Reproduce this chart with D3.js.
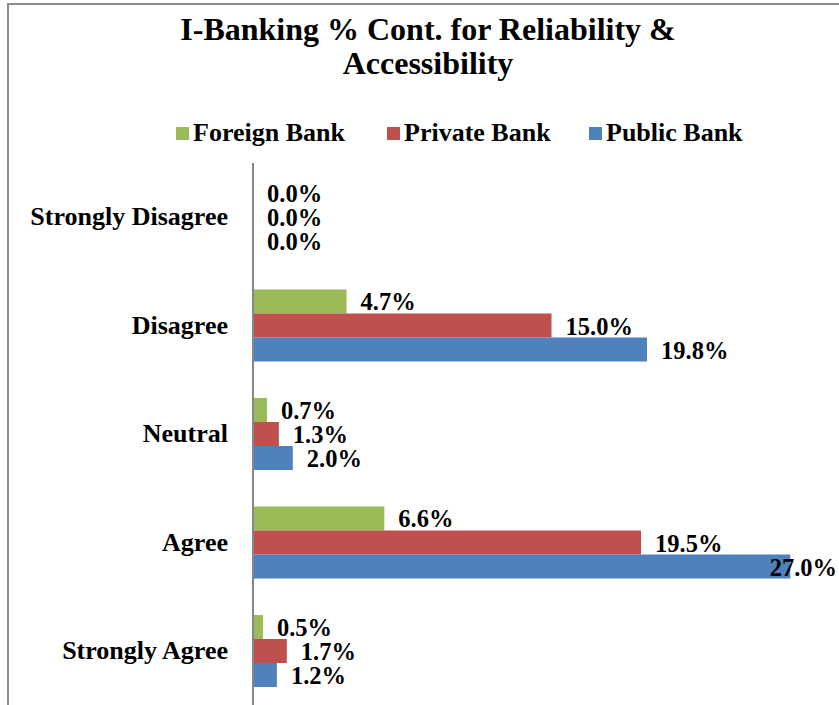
<!DOCTYPE html>
<html>
<head>
<meta charset="utf-8">
<script src="https://cdn.jsdelivr.net/npm/d3@7/dist/d3.min.js"></script>
<style>
  html, body { margin: 0; padding: 0; background: #fff; }
  svg { display: block; }
  svg text { font-family: "Liberation Serif", "Times New Roman", "DejaVu Serif", serif; font-weight: bold; }
</style>
</head>
<body>
<svg id="chart" width="839" height="705"></svg>
<script>
const categories = ["Strongly Disagree", "Disagree", "Neutral", "Agree", "Strongly Agree"];
const seriesNames = ["Foreign Bank", "Private Bank", "Public Bank"];
const seriesColors = ["#9BBB59", "#C0504D", "#4F81BD"];
const foreignBank = [0.0, 4.7, 0.7, 6.6, 0.5];
const privateBank = [0.0, 15.0, 1.3, 19.5, 1.7];
const publicBank = [0.0, 19.8, 2.0, 27.0, 1.2];
const titleLines = ["I-Banking % Cont. for Reliability &", "Accessibility"];

const seriesValues = [foreignBank, privateBank, publicBank];
const W = 839, H = 705;
const svg = d3.select("#chart");

// frame
svg.append("rect").attr("x", 8).attr("y", 4).attr("width", W + 20).attr("height", H + 20)
  .attr("fill", "none").attr("stroke", "#8c8c8c").attr("stroke-width", 2);

// title
svg.append("text").attr("x", 428).attr("y", 40).attr("text-anchor", "middle")
  .attr("font-size", 32).attr("fill", "#000").text(titleLines[0]);
svg.append("text").attr("x", 428).attr("y", 74).attr("text-anchor", "middle")
  .attr("font-size", 32).attr("fill", "#000").text(titleLines[1]);

// legend
const legendX = [176, 387, 589];
seriesNames.forEach((name, i) => {
  const g = svg.append("g").attr("transform", `translate(${legendX[i]},127)`);
  g.append("rect").attr("x", 0).attr("y", 0).attr("width", 13).attr("height", 13).attr("fill", seriesColors[i]);
  g.append("text").attr("x", 17).attr("y", 14).attr("font-size", 26).attr("fill", "#000").text(name);
});

// scales
const x = d3.scaleLinear().domain([0, 30]).range([253, 850]);
const y = d3.scaleBand().domain(categories).range([162.75, 705.25]).paddingInner(0.336).paddingOuter(0.168);
const ySub = d3.scaleBand().domain(seriesNames).range([0, y.bandwidth()]);

// bars
const rows = [];
categories.forEach((c, ci) => {
  seriesNames.forEach((s, si) => rows.push({ cat: c, series: s, si: si, value: seriesValues[si][ci] }));
});

svg.append("g").selectAll("rect").data(rows).join("rect")
  .attr("x", x(0))
  .attr("y", d => y(d.cat) + ySub(d.series))
  .attr("width", d => x(d.value) - x(0))
  .attr("height", ySub.bandwidth())
  .attr("fill", d => seriesColors[d.si]);

// axis line
svg.append("line").attr("x1", x(0)).attr("x2", x(0)).attr("y1", 163).attr("y2", H)
  .attr("stroke", "#868686").attr("stroke-width", 2);

// category labels
svg.append("g").selectAll("text").data(categories).join("text")
  .attr("x", 228)
  .attr("y", d => y(d) + y.bandwidth() / 2 + 8)
  .attr("text-anchor", "end")
  .attr("font-size", 26)
  .attr("fill", "#000")
  .text(d => d);

// data labels
svg.append("g").selectAll("text").data(rows).join("text")
  .attr("y", d => y(d.cat) + ySub(d.series) + ySub.bandwidth() / 2 + 9)
  .attr("font-size", 24.5)
  .attr("fill", "#000")
  .text(d => d.value.toFixed(1) + "%")
  .attr("x", function (d) {
    const w = this.getComputedTextLength();
    return Math.min(x(d.value) + 14, 837 - w);
  });
</script>
</body>
</html>
